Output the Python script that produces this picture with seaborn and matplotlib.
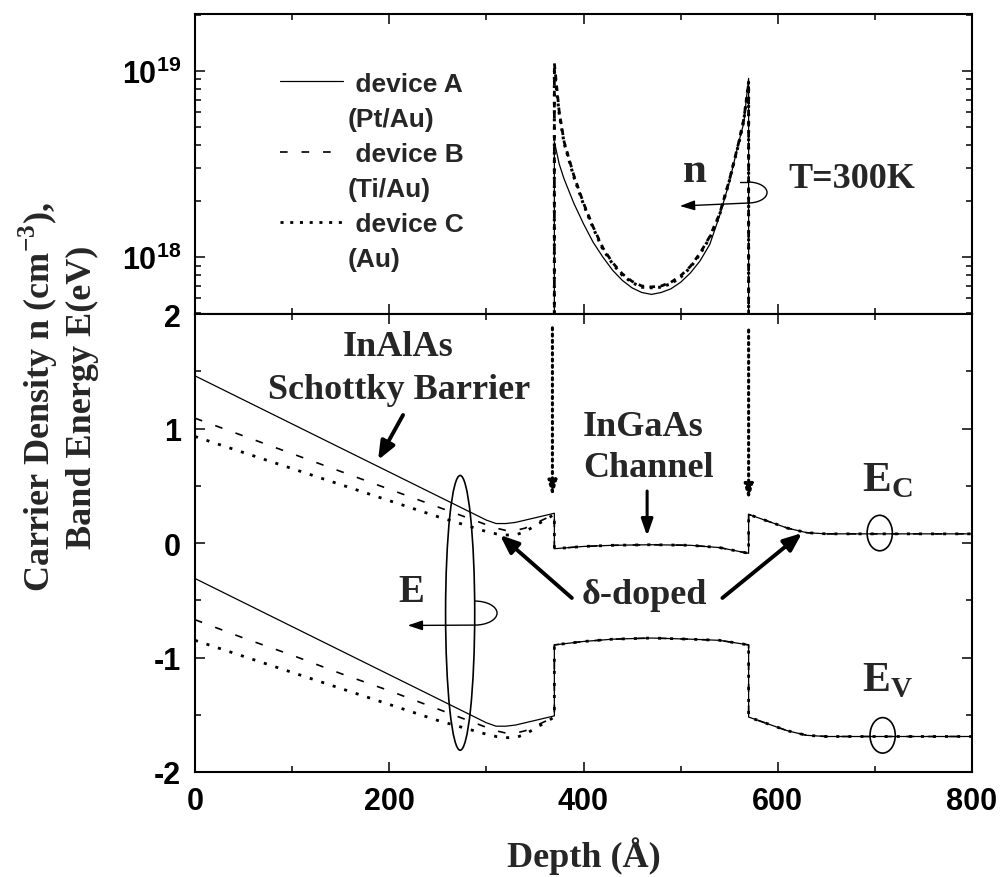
import matplotlib
matplotlib.use("Agg")
import matplotlib.pyplot as plt
import seaborn as sns
import pandas as pd
from matplotlib.lines import Line2D
from matplotlib.patches import Ellipse, Arc
from matplotlib.ticker import FixedLocator, LogLocator, NullFormatter, MultipleLocator

# ---------------- data ----------------
band_depth = [0, 50, 100, 150, 200, 250, 300, 310, 320, 330, 340, 350, 360, 370,
              370, 400, 430, 470, 510, 540, 570,
              570, 590, 610, 630, 650, 700, 750, 800]
ec_A = [1.46, 1.25, 1.04, 0.83, 0.62, 0.41, 0.20, 0.17, 0.17, 0.18, 0.20, 0.22, 0.24, 0.26,
        -0.05, -0.03, -0.02, -0.015, -0.02, -0.04, -0.09,
        0.25, 0.19, 0.13, 0.09, 0.08, 0.08, 0.08, 0.08]
ec_B = [1.09, 0.935, 0.78, 0.625, 0.47, 0.315, 0.16, 0.13, 0.11, 0.11, 0.13, 0.17, 0.21, 0.25,
        -0.05, -0.03, -0.02, -0.015, -0.02, -0.04, -0.09,
        0.25, 0.19, 0.13, 0.09, 0.08, 0.08, 0.08, 0.08]
ec_C = [0.93, 0.79, 0.65, 0.51, 0.37, 0.23, 0.10, 0.08, 0.07, 0.07, 0.10, 0.15, 0.20, 0.25,
        -0.05, -0.03, -0.02, -0.015, -0.02, -0.04, -0.09,
        0.25, 0.19, 0.13, 0.09, 0.08, 0.08, 0.08, 0.08]
ev_A = [-0.31, -0.52, -0.73, -0.94, -1.15, -1.36, -1.57, -1.60, -1.60, -1.59, -1.57, -1.55, -1.53, -1.51,
        -0.89, -0.86, -0.84, -0.83, -0.84, -0.85, -0.89,
        -1.52, -1.58, -1.64, -1.68, -1.69, -1.69, -1.69, -1.69]
ev_B = [-0.67, -0.83, -0.98, -1.14, -1.29, -1.45, -1.61, -1.64, -1.66, -1.66, -1.64, -1.60, -1.56, -1.52,
        -0.89, -0.86, -0.84, -0.83, -0.84, -0.85, -0.89,
        -1.52, -1.58, -1.64, -1.68, -1.69, -1.69, -1.69, -1.69]
ev_C = [-0.85, -0.99, -1.13, -1.27, -1.41, -1.55, -1.67, -1.69, -1.70, -1.70, -1.67, -1.62, -1.57, -1.52,
        -0.89, -0.86, -0.84, -0.83, -0.84, -0.85, -0.89,
        -1.52, -1.58, -1.64, -1.68, -1.69, -1.69, -1.69, -1.69]

n_depth = [370, 370, 375, 380, 390, 400, 410, 420, 430, 440, 450, 460, 470, 480, 490,
           500, 510, 520, 530, 540, 550, 560, 565, 570, 570]
n_A = [1e16, 4.17e18, 3.16e18, 2.63e18, 1.95e18, 1.51e18, 1.20e18, 1.0e18, 8.5e17, 7.5e17, 6.84e17,
       6.46e17, 6.31e17, 6.46e17, 6.76e17, 7.33e17, 8.22e17, 9.55e17, 1.17e18, 1.66e18, 2.51e18,
       4.17e18, 5.25e18, 9.12e18, 1e16]
n_B = [1e16, 1.1e19, 6.03e18, 4.17e18, 2.75e18, 1.95e18, 1.45e18, 1.12e18, 9.33e17, 8.13e17, 7.41e17,
       7.0e17, 6.92e17, 7.0e17, 7.33e17, 7.94e17, 8.91e17, 1.05e18, 1.29e18, 1.70e18, 2.57e18,
       4.17e18, 5.5e18, 8.5e18, 1e16]
n_C = [1e16, 1.0e19, 5.9e18, 4.1e18, 2.7e18, 1.92e18, 1.43e18, 1.10e18, 9.2e17, 8.0e17, 7.3e17,
       6.9e17, 6.85e17, 6.9e17, 7.2e17, 7.8e17, 8.8e17, 1.04e18, 1.27e18, 1.68e18, 2.55e18,
       4.1e18, 5.4e18, 8.7e18, 1e16]

devices = ["A", "B", "C"]
legend_labels = [" device A", "(Pt/Au)", " device B", "(Ti/Au)", " device C", "(Au)"]
x_ticks = [0, 200, 400, 600, 800]
e_ticks = [-2, -1, 0, 1, 2]
n_ticks = [1e18, 1e19]

# ---------------- style ----------------
sns.set_style("ticks")
plt.rcParams.update({
    "font.family": ["Liberation Sans", "DejaVu Sans"],
    "font.weight": "bold",
    "axes.unicode_minus": False,
    "lines.scale_dashes": False,
    "axes.linewidth": 1.5,
    "xtick.direction": "in", "ytick.direction": "in",
    "xtick.major.width": 1.1, "ytick.major.width": 1.1,
    "xtick.minor.width": 1.1, "ytick.minor.width": 1.1,
    "xtick.major.size": 7, "ytick.major.size": 7,
    "xtick.minor.size": 4, "ytick.minor.size": 4,
    "xtick.labelsize": 22, "ytick.labelsize": 22,
    "xtick.color": "black", "ytick.color": "black",
    "axes.edgecolor": "black",
})
SERIF = ["Liberation Serif", "DejaVu Serif"]

low_style = {
    "A": dict(linestyle="-", linewidth=0.9),
    "B": dict(linestyle=(0, (5.5, 10)), linewidth=1.2),
    "C": dict(linestyle=(0, (2.2, 6.5)), linewidth=2.0),
}
up_style = {
    "A": dict(linestyle="-", linewidth=0.9),
    "B": dict(linestyle=(0, (4, 4)), linewidth=2.0),
    "C": dict(linestyle=(0, (2, 4)), linewidth=2.2),
}

fig = plt.figure(figsize=(10, 8.78), dpi=100)
ax1 = fig.add_axes([0.195, 0.6412, 0.777, 0.3417])
ax2 = fig.add_axes([0.195, 0.1196, 0.777, 0.5216], sharex=ax1)

# ---------------- upper panel: carrier density ----------------
n_data = {"A": n_A, "B": n_B, "C": n_C}
for d in devices:
    df = pd.DataFrame({"depth": n_depth, "n": n_data[d]})
    sns.lineplot(data=df, x="depth", y="n", ax=ax1, color="black", estimator=None,
                 sort=False, **up_style[d])
ax1.set_yscale("log")
ax1.set_ylim(4.95e17, 2.02e19)
ax1.yaxis.set_major_locator(FixedLocator(n_ticks))
ax1.yaxis.set_minor_locator(LogLocator(base=10, subs=range(2, 10)))
ax1.yaxis.set_minor_formatter(NullFormatter())
ax1.set_xlabel("")
ax1.set_ylabel("")
ax1.tick_params(axis="both", which="both", top=True, right=True, bottom=True, left=True,
                labelbottom=False, pad=10)

# legend
handles = [
    Line2D([], [], color="black", **low_style["A"]), Line2D([], [], color="none"),
    Line2D([], [], color="black", **low_style["B"]), Line2D([], [], color="none"),
    Line2D([], [], color="black", linestyle=(0, (2.2, 4.8)), linewidth=2.0), Line2D([], [], color="none"),
]
ax1.legend(handles, legend_labels, loc="upper left", bbox_to_anchor=(0.109, 0.808),
           frameon=False, borderpad=0, borderaxespad=0, handlelength=2.39, handletextpad=0.19,
           labelspacing=0.42, prop={"family": "Liberation Sans", "weight": "bold", "size": 19})

ax1.text(502.6, 2.56e18, "n", family=SERIF, fontweight="bold", fontsize=31,
         ha="left", va="baseline")
ax1.text(610.7, 2.38e18, "T=300K", family=SERIF, fontweight="bold", fontsize=26,
         ha="left", va="baseline")
# curl arrow for n (axes coords)
ax1.add_patch(Arc((0.7117, 0.405), 0.049, 0.07, theta1=-90, theta2=90,
                  transform=ax1.transAxes, color="black", lw=1.0))
ax1.plot([0.701, 0.7117], [0.44, 0.44], transform=ax1.transAxes, color="black", lw=1.0)
ax1.annotate("", xy=(0.624, 0.36), xytext=(0.7117, 0.37), xycoords="axes fraction",
             arrowprops=dict(arrowstyle="-|>,head_length=0.9,head_width=0.3", color="black",
                             lw=1.0, shrinkA=0, shrinkB=0))

# ---------------- lower panel: band energy ----------------
ec_data = {"A": ec_A, "B": ec_B, "C": ec_C}
ev_data = {"A": ev_A, "B": ev_B, "C": ev_C}
for d in devices:
    df = pd.DataFrame({"depth": band_depth, "Ec": ec_data[d], "Ev": ev_data[d]})
    sns.lineplot(data=df, x="depth", y="Ec", ax=ax2, color="black", estimator=None,
                 sort=False, **low_style[d])
    sns.lineplot(data=df, x="depth", y="Ev", ax=ax2, color="black", estimator=None,
                 sort=False, **low_style[d])
ax2.set_xlim(0, 800)
ax2.set_ylim(-2, 2)
ax2.yaxis.set_major_locator(FixedLocator(e_ticks))
ax2.yaxis.set_minor_locator(MultipleLocator(0.5))
ax2.xaxis.set_major_locator(FixedLocator(x_ticks))
ax2.xaxis.set_minor_locator(MultipleLocator(100))
ax2.tick_params(axis="both", which="both", top=True, right=True, bottom=True, left=True, pad=10)
ax2.set_ylabel("")
ax2.set_xlabel("Depth (Å)", family=SERIF, fontweight="bold", fontsize=26)
ax2.xaxis.set_label_coords(0.5, -0.14)

tkw = dict(family=SERIF, fontweight="bold", fontsize=26, va="baseline")
ax2.text(209, 1.642, "InAlAs", ha="center", **tkw)
ax2.text(210.5, 1.266, "Schottky Barrier", ha="center", **tkw)
ax2.text(461, 0.943, "InGaAs", ha="center", **tkw)
ax2.text(466.5, 0.585, "Channel", ha="center", **tkw)
ax2.text(463, -0.524, "δ-doped", ha="center", **tkw)
ax2.text(209, -0.507, "E", family=SERIF, fontweight="bold", fontsize=28, ha="left", va="baseline")
ax2.text(687, 0.463, r"E$_{\mathdefault{C}}$", family=SERIF, fontweight="bold", fontsize=31,
         ha="left", va="baseline")
ax2.text(687, -1.284, r"E$_{\mathdefault{V}}$", family=SERIF, fontweight="bold", fontsize=30,
         ha="left", va="baseline")

thick = dict(arrowstyle="-|>,head_length=1.1,head_width=0.45", color="black", lw=2.8,
             shrinkA=0, shrinkB=0, mutation_scale=10)
ax2.annotate("", xy=(188.5, 0.725), xytext=(214.2, 1.118), arrowprops=thick)
ax2.annotate("", xy=(314, 0.07), xytext=(388, -0.48), arrowprops=thick)
ax2.annotate("", xy=(625, 0.087), xytext=(543, -0.48), arrowprops=thick)
ax2.annotate("", xy=(465.5, 0.061), xytext=(465.5, 0.454),
             arrowprops=dict(arrowstyle="-|>,head_length=1.0,head_width=0.35", color="black",
                             lw=2.2, shrinkA=0, shrinkB=0, mutation_scale=10))
dotted = dict(arrowstyle="-|>,head_length=0.9,head_width=0.25", color="black", lw=2.2,
              linestyle=(0, (1.5, 3.0)), shrinkA=0, shrinkB=0, mutation_scale=10)
ax2.annotate("", xy=(368, 0.40), xytext=(368, 1.88), arrowprops=dotted)
ax2.annotate("", xy=(570, 0.37), xytext=(570, 1.86), arrowprops=dotted)

# ellipses
ax2.add_patch(Ellipse((273, -0.61), 30, 2.40, fill=False, color="black", lw=1.2))
ax2.add_patch(Ellipse((705, 0.087), 26, 0.31, fill=False, color="black", lw=1.2))
ax2.add_patch(Ellipse((708, -1.68), 26, 0.31, fill=False, color="black", lw=1.2))
# curl arrow for E
ax2.add_patch(Arc((288, -0.612), 46, 0.21, theta1=-90, theta2=90, color="black", lw=1.0))
ax2.annotate("", xy=(219, -0.72), xytext=(288, -0.717),
             arrowprops=dict(arrowstyle="-|>,head_length=0.9,head_width=0.3", color="black",
                             lw=1.0, shrinkA=0, shrinkB=0))

for ax in (ax1, ax2):
    for s in ax.spines.values():
        s.set_visible(True)
        s.set_linewidth(1.5)

fig.text(0.058, 0.548, "Carrier Density n (cm$^{\\mathdefault{-3}}$),\nBand Energy E(eV)",
         rotation=90, ha="center", va="center", multialignment="center",
         family=SERIF, fontweight="bold", fontsize=26, linespacing=1.25)

fig.savefig("out.png", dpi=100)
